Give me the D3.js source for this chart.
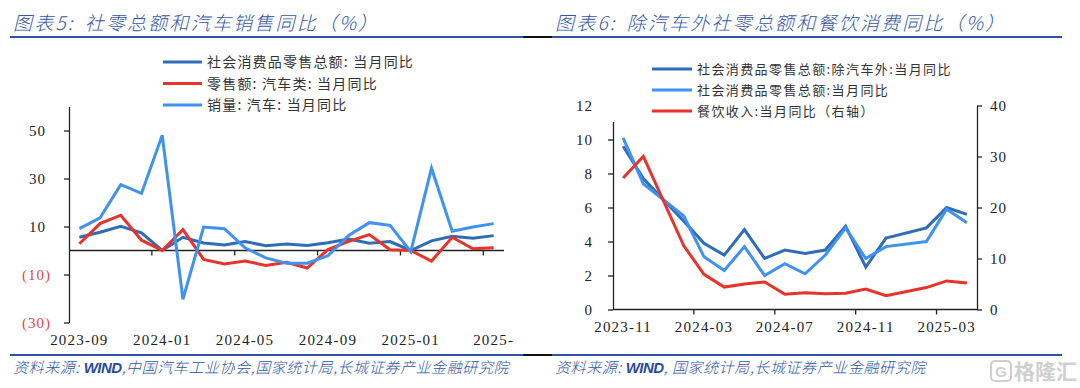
<!DOCTYPE html>
<html><head><meta charset="utf-8">
<script src="https://cdn.jsdelivr.net/npm/d3@7"></script>
<style>body{margin:0;background:#fff}svg{display:block}</style>
</head><body>
<svg id="c" width="1080" height="388"></svg>
<script>
// ---------- Chart 5 data ----------
const months1 = ["2023-09","2023-10","2023-11","2023-12","2024-01","2024-02","2024-03","2024-04","2024-05","2024-06","2024-07","2024-08","2024-09","2024-10","2024-11","2024-12","2025-01","2025-02","2025-03","2025-04","2025-05"];
const retailTotal1 = [5.5,7.6,10.1,7.4,0,5.5,3.1,2.3,3.7,2.0,2.7,2.1,3.2,4.8,3.0,3.7,0,4.0,5.9,5.1,6.2];
const autoRetail1 = [2.8,11.2,14.7,4.3,0,8.7,-3.7,-5.6,-4.4,-6.2,-4.9,-7.3,0.4,3.8,6.6,0.3,0,-4.4,5.5,0.7,1.1];
const autoSales1 = [9.1,13.6,27.4,23.8,48.0,-20.3,9.8,9.1,1.1,-3.1,-5.3,-5.3,-2.2,6.3,11.6,10.5,-0.5,34.3,8.0,9.8,11.2];
const xLabels1 = ["2023-09","2024-01","2024-05","2024-09","2025-01","2025-"];
const yTicks1 = [-30,-10,10,30,50];
const legend1 = ["社会消费品零售总额: 当月同比","零售额: 汽车类: 当月同比","销量: 汽车: 当月同比"];

// ---------- Chart 6 data ----------
const months2 = ["2023-11","2023-12","2024-01","2024-02","2024-03","2024-04","2024-05","2024-06","2024-07","2024-08","2024-09","2024-10","2024-11","2024-12","2025-01","2025-02","2025-03","2025-04"];
const exAuto2 = [9.6,7.7,null,5.2,3.9,3.2,4.7,3.0,3.5,3.3,3.5,4.9,2.5,4.2,null,4.8,6.0,5.6];
const total2 = [10.1,7.4,null,5.5,3.1,2.3,3.7,2.0,2.7,2.1,3.2,4.8,3.0,3.7,null,4.0,5.9,5.1];
const catering2 = [25.8,30.0,null,12.5,6.9,4.4,5.0,5.4,3.0,3.3,3.1,3.2,4.0,2.7,null,4.3,5.6,5.2];
const xLabels2 = ["2023-11","2024-03","2024-07","2024-11","2025-03"];
const yTicksL2 = [0,2,4,6,8,10,12];
const yTicksR2 = [0,10,20,30,40];
const legend2 = ["社会消费品零售总额:除汽车外:当月同比","社会消费品零售总额:当月同比","餐饮收入:当月同比（右轴）"];

const DARK = "#2f6db6", LIGHT = "#3f92f0", RED = "#e8332b";
const TITLE = "#3356a5";
const NUMFONT = "'Liberation Serif','DejaVu Serif',serif";
const CJK = "'Noto Sans CJK SC','Noto Sans',sans-serif";

const svg = d3.select("#c");

// ---------- titles & rules ----------
function title(x, t1, t2) {
  const t = svg.append("text").attr("x", x).attr("y", 30)
    .attr("font-family", CJK).attr("font-size", 19).attr("font-style", "italic").attr("font-weight", 300)
    .attr("fill", TITLE).attr("letter-spacing", 2.2);
  t.append("tspan").text(t1);
  t.append("tspan").attr("dx", 10).text(t2);
}
title(13, "图表5:", "社零总额和汽车销售同比（%）");
title(555, "图表6:", "除汽车外社零总额和餐饮消费同比（%）");

function rule(y) {
  svg.append("line").attr("x1", 10).attr("x2", 523).attr("y1", y).attr("y2", y).attr("stroke", "#2f55a4").attr("stroke-width", 2);
  svg.append("line").attr("x1", 523).attr("x2", 552).attr("y1", y).attr("y2", y).attr("stroke", "#111").attr("stroke-width", 2);
  svg.append("line").attr("x1", 552).attr("x2", 1062).attr("y1", y).attr("y2", y).attr("stroke", "#2f55a4").attr("stroke-width", 2);
}
rule(37);
rule(355);

function footer(x, a, b, c) {
  const t = svg.append("text").attr("x", x).attr("y", 373)
    .attr("font-family", CJK).attr("font-size", 15).attr("font-style", "italic").attr("font-weight", 300)
    .attr("fill", "#2f55a4").attr("letter-spacing", 0.6);
  t.append("tspan").text(a);
  t.append("tspan").attr("font-family", "'Liberation Sans',sans-serif").attr("font-weight", "bold").attr("fill", "#2a4a9a").attr("letter-spacing", -0.5).text(b);
  t.append("tspan").text(c);
}
footer(13, "资料来源: ", "WIND", ",中国汽车工业协会,国家统计局,长城证券产业金融研究院");
footer(555, "资料来源:  ", "WIND", ", 国家统计局,长城证券产业金融研究院");

// watermark
const wm = svg.append("g").attr("opacity", 0.4);
wm.append("rect").attr("x", 991).attr("y", 361).attr("width", 20).attr("height", 20).attr("rx", 4)
  .attr("fill", "none").attr("stroke", "#8a8a8a").attr("stroke-width", 2.2);
wm.append("text").attr("x", 1001).attr("y", 377).attr("text-anchor", "middle").attr("font-family", "'Liberation Sans',sans-serif")
  .attr("font-weight", "bold").attr("font-size", 15).attr("fill", "#8a8a8a").text("G");
wm.append("text").attr("x", 1014).attr("y", 379).attr("font-family", CJK).attr("font-size", 21)
  .attr("font-weight", "bold").attr("fill", "#8a8a8a").text("格隆汇");

// ---------- Chart 5 ----------
const x1 = d3.scaleBand().domain(months1).range([69, 504]);
const y1 = d3.scaleLinear().domain([-30, 60]).range([322.5, 106.5]);
const bw1 = x1.bandwidth();
const g1 = svg.append("g");

// y axis
const ya1 = g1.append("g").attr("transform", "translate(69,0)")
  .call(d3.axisLeft(y1).tickValues(yTicks1).tickSize(5).tickSizeOuter(0).tickPadding(13)
    .tickFormat(d => d < 0 ? "(" + (-d) + ")" : d));
ya1.select(".domain").attr("stroke", "#222").attr("stroke-width", 1.3);
ya1.selectAll(".tick line").attr("stroke", "#222").attr("stroke-width", 1.3);
ya1.selectAll(".tick text").attr("font-family", NUMFONT).attr("font-size", 15).attr("letter-spacing", 1)
  .attr("fill", d => d < 0 ? "#e04a44" : "#222").attr("dx", d => d < 0 ? 0 : -5);

// x axis at zero
const y0 = y1(0);
g1.append("line").attr("x1", 69).attr("x2", 504).attr("y1", y0).attr("y2", y0).attr("stroke", "#222").attr("stroke-width", 1.3);
[4, 8, 12, 16, 20].forEach(i => {
  const xx = x1(months1[i]);
  g1.append("line").attr("x1", xx).attr("x2", xx).attr("y1", y0).attr("y2", y0 + 5).attr("stroke", "#222").attr("stroke-width", 1.3);
});
xLabels1.forEach((lab, k) => {
  const m = months1[k * 4];
  g1.append("text").attr("x", x1(m) + bw1 / 2).attr("y", 345).attr("text-anchor", "middle")
    .attr("font-family", NUMFONT).attr("font-size", 15).attr("letter-spacing", 1.2).attr("fill", "#222").text(lab);
});

const line1 = d3.line().x((d, i) => x1(months1[i]) + bw1 / 2).y(d => y1(d));
[[retailTotal1, DARK], [autoRetail1, RED], [autoSales1, LIGHT]].forEach(([arr, col]) => {
  g1.append("path").datum(arr).attr("d", line1).attr("fill", "none").attr("stroke", col)
    .attr("stroke-width", 3).attr("stroke-linejoin", "miter");
});

// legend 1
legend1.forEach((t, i) => {
  const yy = 62 + i * 21.5;
  g1.append("line").attr("x1", 163).attr("x2", 202).attr("y1", yy).attr("y2", yy)
    .attr("stroke", [DARK, RED, LIGHT][i]).attr("stroke-width", 3);
  g1.append("text").attr("x", 207).attr("y", yy + 5).attr("font-family", CJK).attr("font-size", 14)
    .attr("letter-spacing", 1.2).attr("fill", "#333").text(t);
});

// ---------- Chart 6 ----------
const x2 = d3.scaleBand().domain(months2).range([613, 977]);
const bw2 = x2.bandwidth();
const yL = d3.scaleLinear().domain([0, 12]).range([309.5, 105.5]);
const yR = d3.scaleLinear().domain([0, 40]).range([309.5, 105.5]);
const g2 = svg.append("g");

const ya2 = g2.append("g").attr("transform", "translate(613,0)")
  .call(d3.axisLeft(yL).tickValues(yTicksL2).tickSize(5).tickSizeOuter(0).tickPadding(15));
const yr2 = g2.append("g").attr("transform", "translate(977,0)")
  .call(d3.axisRight(yR).tickValues(yTicksR2).tickSize(5).tickSizeOuter(0).tickPadding(8));
[ya2, yr2].forEach(a => {
  a.select(".domain").attr("stroke", "#222").attr("stroke-width", 1.3);
  a.selectAll(".tick line").attr("stroke", "#222").attr("stroke-width", 1.3);
  a.selectAll(".tick text").attr("font-family", NUMFONT).attr("font-size", 15).attr("letter-spacing", 1).attr("fill", "#222");
});

g2.append("line").attr("x1", 613).attr("x2", 977).attr("y1", 309.5).attr("y2", 309.5).attr("stroke", "#222").attr("stroke-width", 1.3);
[4, 8, 12, 16].forEach(i => {
  const xx = x2(months2[i]);
  g2.append("line").attr("x1", xx).attr("x2", xx).attr("y1", 309.5).attr("y2", 314.5).attr("stroke", "#222").attr("stroke-width", 1.3);
});
xLabels2.forEach(lab => {
  g2.append("text").attr("x", x2(lab) + bw2 / 2).attr("y", 332).attr("text-anchor", "middle")
    .attr("font-family", NUMFONT).attr("font-size", 15).attr("letter-spacing", 1.2).attr("fill", "#222").text(lab);
});

function seriesPath(arr, ys) {
  const pts = arr.map((v, i) => [x2(months2[i]) + bw2 / 2, v]).filter(p => p[1] != null);
  return d3.line().x(p => p[0]).y(p => ys(p[1]))(pts);
}
[[exAuto2, DARK, yL], [total2, LIGHT, yL], [catering2, RED, yR]].forEach(([arr, col, ys]) => {
  g2.append("path").attr("d", seriesPath(arr, ys)).attr("fill", "none").attr("stroke", col).attr("stroke-width", 3);
});

// legend 2 (white background covers axis top)
g2.append("rect").attr("x", 603).attr("y", 55).attr("width", 355).attr("height", 67).attr("fill", "#fff");
legend2.forEach((t, i) => {
  const yy = 69 + i * 21;
  g2.append("line").attr("x1", 652).attr("x2", 692).attr("y1", yy).attr("y2", yy)
    .attr("stroke", [DARK, LIGHT, RED][i]).attr("stroke-width", 3);
  g2.append("text").attr("x", 697).attr("y", yy + 5).attr("font-family", CJK).attr("font-size", 13)
    .attr("letter-spacing", 1.4).attr("fill", "#333").text(t);
});
</script>
</body></html>
